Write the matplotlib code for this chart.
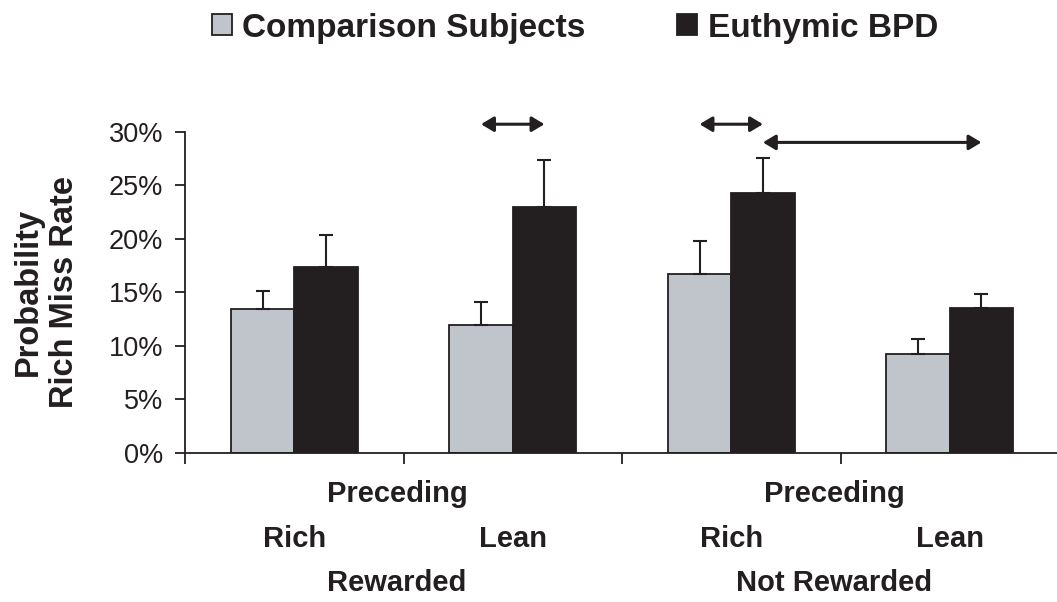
import matplotlib
matplotlib.use('Agg')
import matplotlib.pyplot as plt
import numpy as np
from matplotlib.patches import Patch
from matplotlib.ticker import FuncFormatter

# ------ DATA (percent) ------
CONDITIONS = ['Rich', 'Lean', 'Rich', 'Lean']
OUTCOMES = ['Rewarded', 'Not Rewarded']
COMPARISON = [13.4, 11.9, 16.7, 9.2]
COMPARISON_TOP = [15.1, 14.1, 19.8, 10.6]   # top of error bar
BPD = [17.4, 23.0, 24.3, 13.5]
BPD_TOP = [20.3, 27.4, 27.5, 14.8]
# significance arrows: (bar index, series) -> (bar index, series)
SIG_PAIRS = [((1, 0), (1, 1)), ((2, 0), (2, 1)), ((2, 1), (3, 1))]

GRAY = '#c0c4cb'
BLACK = '#231f20'

plt.rcParams['font.family'] = ['Liberation Sans', 'DejaVu Sans']

fig = plt.figure(figsize=(10.57, 6.02), dpi=100)
ax = fig.add_axes([185 / 1057, 149.3 / 602, 874 / 1057, 321 / 602])

x = np.arange(len(CONDITIONS)) + 0.5
w = 0.29
comp = np.array(COMPARISON)
bpd = np.array(BPD)
comp_err = [np.zeros(4), np.array(COMPARISON_TOP) - comp]
bpd_err = [np.zeros(4), np.array(BPD_TOP) - bpd]

ax.bar(x - w / 2, comp, w, color=GRAY, edgecolor=BLACK, linewidth=1.3,
       yerr=comp_err, error_kw=dict(ecolor=BLACK, elinewidth=1.5, capsize=5, capthick=1.5))
ax.bar(x + w / 2, bpd, w, color=BLACK, edgecolor=BLACK, linewidth=1.3,
       yerr=bpd_err, error_kw=dict(ecolor=BLACK, elinewidth=1.5, capsize=5, capthick=1.5))

# significance arrows
arrow_y = [30.7, 30.7, 29.0]
for (a, b), yy in zip(SIG_PAIRS, arrow_y):
    xa = x[a[0]] + (w / 2 if a[1] else -w / 2)
    xb = x[b[0]] + (w / 2 if b[1] else -w / 2)
    ax.annotate('', xy=(xb, yy), xytext=(xa, yy), annotation_clip=False,
                arrowprops=dict(arrowstyle='<|-|>,head_length=0.5,head_width=0.3',
                                mutation_scale=15, color=BLACK, lw=2.2,
                                shrinkA=0, shrinkB=0))

ax.set_xlim(0, 4)
ax.set_ylim(0, 30)
ax.set_yticks(np.arange(0, 31, 5))
ax.yaxis.set_major_formatter(FuncFormatter(lambda v, p: '%d%%' % v))
ax.set_xticks(np.arange(0, 5))
ax.set_xticklabels([])
for s in ['top', 'right']:
    ax.spines[s].set_visible(False)
for s in ['left', 'bottom']:
    ax.spines[s].set_linewidth(1.3)
    ax.spines[s].set_color(BLACK)
ax.tick_params(axis='y', direction='out', length=7.5, width=1.3, pad=8,
               labelsize=19.5, colors=BLACK)
ax.tick_params(axis='x', direction='out', length=8, width=1.3, colors=BLACK)

ax.set_ylabel('Probability\nRich Miss Rate', fontsize=23.5, fontweight='bold',
              color=BLACK, linespacing=1.22)
ax.yaxis.set_label_coords(-0.12, 0.5)

# category labels under axis
tr = ax.get_xaxis_transform()
lab = dict(fontsize=21, fontweight='bold', color=BLACK, ha='center', va='center')
for i, outcome in enumerate(OUTCOMES):
    mid = x[2 * i] + 0.47
    ax.text(mid, -0.128, 'Preceding', transform=tr, **lab)
    ax.text(mid, -0.405, outcome, transform=tr, **lab)
for xi, c in zip(x, CONDITIONS):
    ax.text(xi, -0.27, c, transform=tr, **lab)

handles = [Patch(facecolor=GRAY, edgecolor=BLACK, linewidth=1.3),
           Patch(facecolor=BLACK, edgecolor=BLACK, linewidth=1.3)]
leg = fig.legend(handles, ['Comparison Subjects', 'Euthymic BPD'], ncol=2,
                 loc='center', bbox_to_anchor=(575 / 1057, 1 - 28 / 602),
                 frameon=False, handlelength=0.6, handleheight=0.57,
                 handletextpad=0.32, columnspacing=2.75, borderpad=0,
                 prop=dict(size=24, weight='bold'))
for t in leg.get_texts():
    t.set_color(BLACK)

fig.savefig('out.png', dpi=100)
